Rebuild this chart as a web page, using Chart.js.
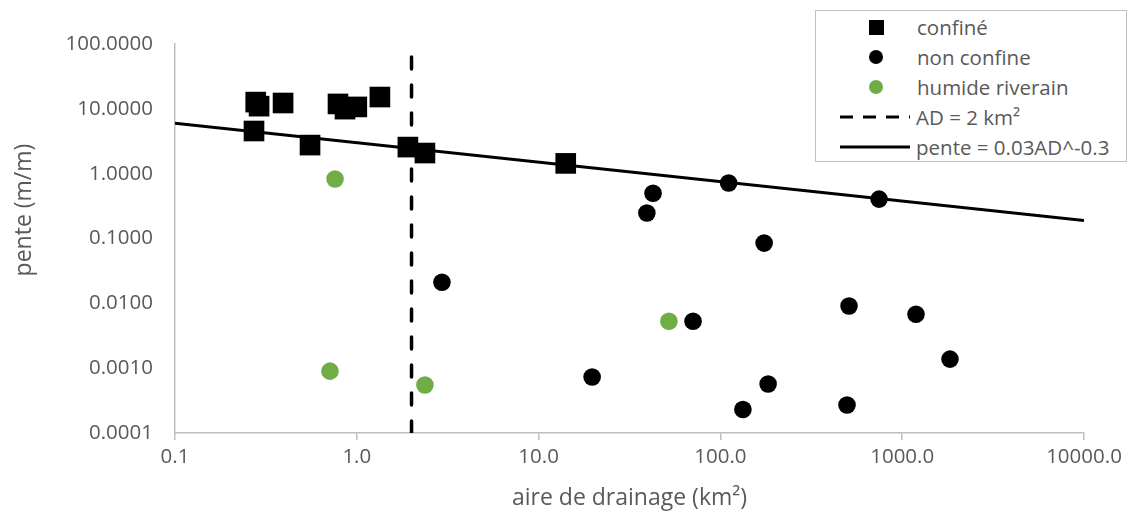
<!DOCTYPE html>
<html>
<head>
<meta charset="utf-8">
<script src="https://cdn.jsdelivr.net/npm/chart.js@4"></script>
<style>
  body { margin: 0; background: #fff; }
  #wrap { position: relative; width: 1130px; height: 512px; }
  #legend {
    position: absolute; left: 815px; top: 10px; width: 312px; height: 152px;
    border: 1px solid #bfbfbf; background: #fff; box-sizing: border-box;
    font-family: "Open Sans", sans-serif; font-size: 20.5px; color: #595959;
  }
  .row { position: absolute; left: 0; height: 30px; line-height: 30px; }
  .row svg { position: absolute; left: 22px; top: 0; }
  .row span { position: absolute; left: 101px; white-space: nowrap; }
</style>
</head>
<body>
<div id="wrap">
  <canvas id="chart" width="1130" height="512"></canvas>
  <div id="legend"></div>
</div>
<script>
const confineX = [0.278, 0.29, 0.393, 0.788, 0.861, 1.0, 1.34, 0.272, 0.553, 1.91, 2.37, 14.1];
const confineY = [12.7, 11.0, 12.3, 11.9, 9.9, 10.7, 15.2, 4.55, 2.76, 2.57, 2.08, 1.44];

const nonConfineX = [2.94, 19.7, 42.6, 39.4, 111, 70.7, 174, 133, 183, 510, 497, 746, 1191, 1832];
const nonConfineY = [0.0212, 0.00073, 0.50, 0.247, 0.716, 0.0053, 0.085, 0.00023, 0.00057, 0.0091, 0.00027, 0.405, 0.0068, 0.00138];

const humideX = [0.759, 0.712, 2.37, 52.1];
const humideY = [0.826, 0.0009, 0.00055, 0.0053];

const adX = [2, 2];
const adY = [0.0001, 100];

const penteX = [0.1, 10000];
const penteY = [6.0, 0.19];

const xTicks = [0.1, 1, 10, 100, 1000, 10000];
const yTicks = [0.0001, 0.001, 0.01, 0.1, 1, 10, 100];

const labels = ["confiné", "non confine", "humide riverain", "AD = 2 km²", "pente = 0.03AD^-0.3"];
const yTitle = "pente (m/m)";

const green = "#70ad47";
const grey = "#595959";
const axisGrey = "#bfbfbf";

const toPoints = (xs, ys) => xs.map((x, i) => ({ x, y: ys[i] }));

// y title sits a bit above the axis middle in the original, so draw it by hand
const yTitlePlugin = {
  id: "yTitle",
  afterDraw(chart) {
    const ctx = chart.ctx;
    ctx.save();
    ctx.translate(24, 210);
    ctx.rotate(-Math.PI / 2);
    ctx.font = '23px "Open Sans"';
    ctx.fillStyle = grey;
    ctx.textAlign = "center";
    ctx.textBaseline = "middle";
    ctx.fillText(yTitle, 0, 0);
    ctx.restore();
  },
};

new Chart(document.getElementById("chart"), {
  type: "scatter",
  data: {
    datasets: [
      {
        label: labels[0],
        data: toPoints(confineX, confineY),
        pointStyle: "rect",
        pointRadius: 14.6,
        pointHoverRadius: 14.6,
        backgroundColor: "#000",
        borderWidth: 0,
        order: 1,
      },
      {
        label: labels[1],
        data: toPoints(nonConfineX, nonConfineY),
        pointRadius: 8.8,
        pointHoverRadius: 8.8,
        backgroundColor: "#000",
        borderWidth: 0,
        order: 2,
      },
      {
        label: labels[2],
        data: toPoints(humideX, humideY),
        pointRadius: 8.8,
        pointHoverRadius: 8.8,
        backgroundColor: green,
        borderWidth: 0,
        order: 3,
      },
      {
        label: labels[3],
        data: toPoints(adX, adY),
        showLine: true,
        pointRadius: 0,
        borderColor: "#000",
        borderWidth: 3.5,
        borderDash: [12, 16],
        borderCapStyle: "round",
        order: 4,
      },
      {
        label: labels[4],
        data: toPoints(penteX, penteY),
        showLine: true,
        pointRadius: 0,
        borderColor: "#000",
        borderWidth: 3,
        order: 5,
      },
    ],
  },
  options: {
    responsive: false,
    animation: false,
    layout: { padding: { top: 44, right: 46, bottom: 0, left: 0 } },
    plugins: { legend: { display: false }, tooltip: { enabled: false } },
    scales: {
      x: {
        type: "logarithmic",
        min: 0.1,
        max: 10000,
        afterBuildTicks: (scale) => {
          scale.ticks = xTicks.map((v) => ({ value: v }));
        },
        afterFit: (scale) => {
          scale.height = 79;
        },
        ticks: {
          color: grey,
          font: { family: "Open Sans", size: 20.5 },
          padding: 5,
          maxRotation: 0,
          callback: (v) => Number(v).toFixed(1),
        },
        grid: {
          drawOnChartArea: false,
          drawTicks: true,
          tickLength: 7,
          color: axisGrey,
          lineWidth: 1.5,
        },
        border: { color: axisGrey, width: 1.5 },
        title: {
          display: true,
          text: "aire de drainage (km²)",
          color: grey,
          font: { family: "Open Sans", size: 23 },
          padding: { top: 2, bottom: 0 },
        },
      },
      y: {
        type: "logarithmic",
        min: 0.0001,
        max: 100,
        afterBuildTicks: (scale) => {
          scale.ticks = yTicks.map((v) => ({ value: v }));
        },
        afterFit: (scale) => {
          scale.width = 175;
        },
        ticks: {
          color: grey,
          font: { family: "Open Sans", size: 20.5 },
          padding: 22,
          callback: (v) => Number(v).toFixed(4),
        },
        grid: { display: false, drawTicks: false },
        border: { color: axisGrey, width: 1.5 },
      },
    },
  },
  plugins: [yTitlePlugin],
});

// legend (html, real text)
const legend = document.getElementById("legend");
const symbols = [
  '<rect x="31" y="8" width="15" height="15" fill="#000"/>',
  '<circle cx="38" cy="15" r="7" fill="#000"/>',
  '<circle cx="38" cy="15" r="7" fill="' + green + '"/>',
  '<line x1="2" y1="15" x2="72" y2="15" stroke="#000" stroke-width="3" stroke-dasharray="13 10"/>',
  '<line x1="2" y1="15" x2="72" y2="15" stroke="#000" stroke-width="3"/>',
];
labels.forEach((text, i) => {
  const row = document.createElement("div");
  row.className = "row";
  row.style.top = 1 + i * 30 + "px";
  row.innerHTML =
    '<svg width="75" height="30">' + symbols[i] + "</svg>" +
    "<span" + (i > 2 ? ' style="left:100px"' : "") + ">" + text + "</span>";
  legend.appendChild(row);
});
</script>
</body>
</html>
